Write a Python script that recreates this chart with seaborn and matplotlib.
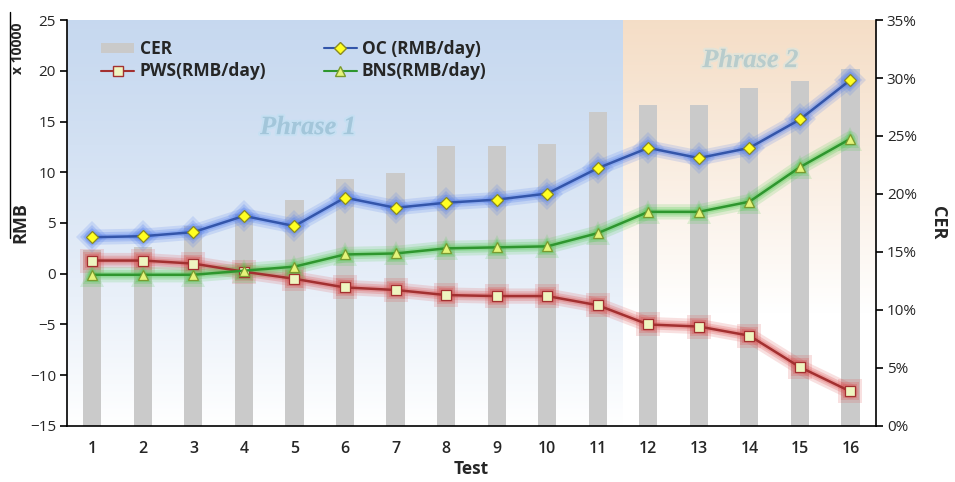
import numpy as np
import pandas as pd
import matplotlib
matplotlib.use("Agg")
import matplotlib.pyplot as plt
import seaborn as sns
from matplotlib.lines import Line2D
from matplotlib.patches import Patch
from matplotlib.ticker import FuncFormatter, MultipleLocator
import matplotlib.patheffects as pe

# ---------------- data ----------------
tests = list(range(1, 17))
cer = [15.2, 15.4, 17.2, 18.3, 19.5, 21.3, 21.8, 24.1, 24.1, 24.3, 27.1, 27.7, 27.7, 29.1, 29.7, 30.8]
oc = [3.6, 3.7, 4.1, 5.7, 4.7, 7.5, 6.5, 7.0, 7.3, 7.9, 10.4, 12.4, 11.4, 12.4, 15.2, 19.1]
pws = [1.3, 1.3, 1.0, 0.2, -0.5, -1.35, -1.6, -2.1, -2.2, -2.2, -3.1, -5.0, -5.2, -6.1, -9.2, -11.6]
bns = [-0.1, -0.1, -0.1, 0.3, 0.7, 1.9, 2.0, 2.5, 2.6, 2.7, 4.0, 6.1, 6.1, 7.1, 10.5, 13.3]
left_ticks = [-15, -10, -5, 0, 5, 10, 15, 20, 25]
right_ticks = [0, 5, 10, 15, 20, 25, 30, 35]
phase_split = 11.5
phase_labels = ["Phrase 1", "Phrase 2"]

df = pd.DataFrame({"Test": tests, "CER": cer, "OC": oc, "PWS": pws, "BNS": bns})

sns.set_style("white")
plt.rcParams["font.family"] = ["Open Sans", "DejaVu Sans"]

fig = plt.figure(figsize=(9.55, 4.82), dpi=100)
ax = fig.add_axes([0.0702, 0.1162, 0.8468, 0.8423])
ax2 = ax.twinx()

# ----- background gradients (on ax2, behind everything) -----
ax2.set_ylim(0, 35)
ax2.set_xlim(0.5, 16.5)
n = 256
t = np.linspace(0, 1, n)[:, None]  # 0 top -> 1 bottom
blue_top = np.array([0.78, 0.85, 0.94])
white = np.array([1.0, 1.0, 1.0])
g_blue = blue_top + (white - blue_top) * np.clip(t ** 1.3, 0, 1)
img_blue = np.repeat(g_blue[:, None, :], 2, axis=1)
peach_top = np.array([0.96, 0.87, 0.78])
g_peach = peach_top + (white - peach_top) * np.clip((t / 0.72) ** 1.1, 0, 1)
img_peach = np.repeat(g_peach[:, None, :], 2, axis=1)
ax2.imshow(img_blue, extent=[0.5, phase_split, 0, 35], aspect="auto", zorder=0, interpolation="bilinear")
ax2.imshow(img_peach, extent=[phase_split, 16.5, 0, 35], aspect="auto", zorder=0, interpolation="bilinear")

# ----- CER bars -----
sns.barplot(data=df, x="Test", y="CER", ax=ax2, native_scale=True, width=0.36,
            color="#cacaca", saturation=1, errorbar=None, zorder=1, linewidth=0)

# ----- lines on primary axis (on top) -----
ax.set_zorder(ax2.get_zorder() + 1)
ax.patch.set_visible(False)

series = [
    ("OC", "#3355aa", "#5580ee", "D", "#ffff22", "#8a8a20", 6),
    ("PWS", "#a33030", "#dd5555", "s", "#eef5c0", "#a33030", 7),
    ("BNS", "#2e962e", "#55cc55", "^", "#e4f47a", "#7a9a30", 7),
]
for col, lc, gc, mk, mfc, mec, ms in series:
    for lw, a in [(11, 0.18), (7, 0.25), (4, 0.3)]:
        sns.lineplot(data=df, x="Test", y=col, ax=ax, color=gc, lw=lw, alpha=a,
                     marker=mk, markersize=ms + lw * 0.9, markeredgewidth=0,
                     markerfacecolor=gc, solid_capstyle="round", zorder=2)
    sns.lineplot(data=df, x="Test", y=col, ax=ax, color=lc, lw=1.8,
                 marker=mk, markersize=ms, markerfacecolor=mfc,
                 markeredgecolor=mec, markeredgewidth=0.9, zorder=3)

ax.set_xlim(0.5, 16.5)
ax.set_ylim(-15, 25)
ax.set_yticks(left_ticks)
ax2.set_yticks(right_ticks)
ax2.yaxis.set_major_formatter(FuncFormatter(lambda v, p: f"{v:.0f}%"))
ax.set_xticks(tests)
ax.xaxis.set_minor_locator(MultipleLocator(1, offset=0.5))
ax.tick_params(axis="x", which="major", length=0, pad=11, labelsize=11.5)
ax.tick_params(axis="x", which="minor", length=6, width=1.2, direction="out", color="black")
ax.tick_params(axis="y", length=5, width=1.2, direction="out", color="black", labelsize=11, pad=3)
ax2.tick_params(axis="y", length=5, width=1.2, direction="out", color="black", labelsize=11, pad=3)
for lab in ax.get_xticklabels():
    lab.set_fontweight("semibold")

for a in (ax, ax2):
    a.spines["top"].set_visible(False)
    for s in ("left", "right", "bottom"):
        a.spines[s].set_color("black")
        a.spines[s].set_linewidth(1.2)
ax2.spines["left"].set_visible(False)
ax.spines["right"].set_visible(False)
ax2.spines["bottom"].set_visible(False)
ax2.set_xlabel("")
ax2.set_ylabel("")

ax.set_xlabel("Test", fontsize=12.5, fontweight="bold", labelpad=2)
ax.set_ylabel("RMB", fontsize=13, fontweight="bold", labelpad=0)
ax2.set_ylabel("CER", fontsize=13, fontweight="bold", rotation=270, labelpad=22)
fig.text(0.019, 0.90, "x 10000", rotation=90, fontsize=10, fontweight="bold", ha="center", va="center")
fig.add_artist(Line2D([0.0105, 0.0105], [1 - 12 / 482, 1 - 238 / 482], color="black", lw=1.0))

# phase labels
glow = [pe.withStroke(linewidth=3, foreground=(0.75, 0.88, 0.95, 0.6))]
ax.text(5.27, 14.4, phase_labels[0], fontsize=19, fontstyle="italic", fontweight="bold",
        family="Liberation Serif", color="#a3c6da", ha="center", va="center", zorder=1, path_effects=glow)
ax.text(14.02, 21.0, phase_labels[1], fontsize=19, fontstyle="italic", fontweight="bold",
        family="Liberation Serif", color="#b8cccc", ha="center", va="center", zorder=1,
        path_effects=[pe.withStroke(linewidth=3, foreground=(0.85, 0.9, 0.88, 0.6))])

# legend
handles = [
    Patch(facecolor="#cacaca", edgecolor="none"),
    Line2D([], [], color="#a33030", lw=1.5, marker="s", markersize=7, markerfacecolor="#eef5c0", markeredgecolor="#a33030"),
    Line2D([], [], color="#3355aa", lw=1.5, marker="D", markersize=6, markerfacecolor="#ffff22", markeredgecolor="#8a8a20"),
    Line2D([], [], color="#2e962e", lw=1.5, marker="^", markersize=7, markerfacecolor="#e4f47a", markeredgecolor="#7a9a30"),
]
labels = ["CER", "PWS(RMB/day)", "OC (RMB/day)", "BNS(RMB/day)"]
leg = ax.legend(handles, labels, ncol=2, loc="upper left", bbox_to_anchor=(0.034, 0.968),
                frameon=False, prop={"weight": "bold", "size": 12.5}, handlelength=1.9,
                handleheight=0.5, handletextpad=0.3, columnspacing=3.3, labelspacing=0.25,
                borderaxespad=0)

fig.savefig("out.png", dpi=100)
